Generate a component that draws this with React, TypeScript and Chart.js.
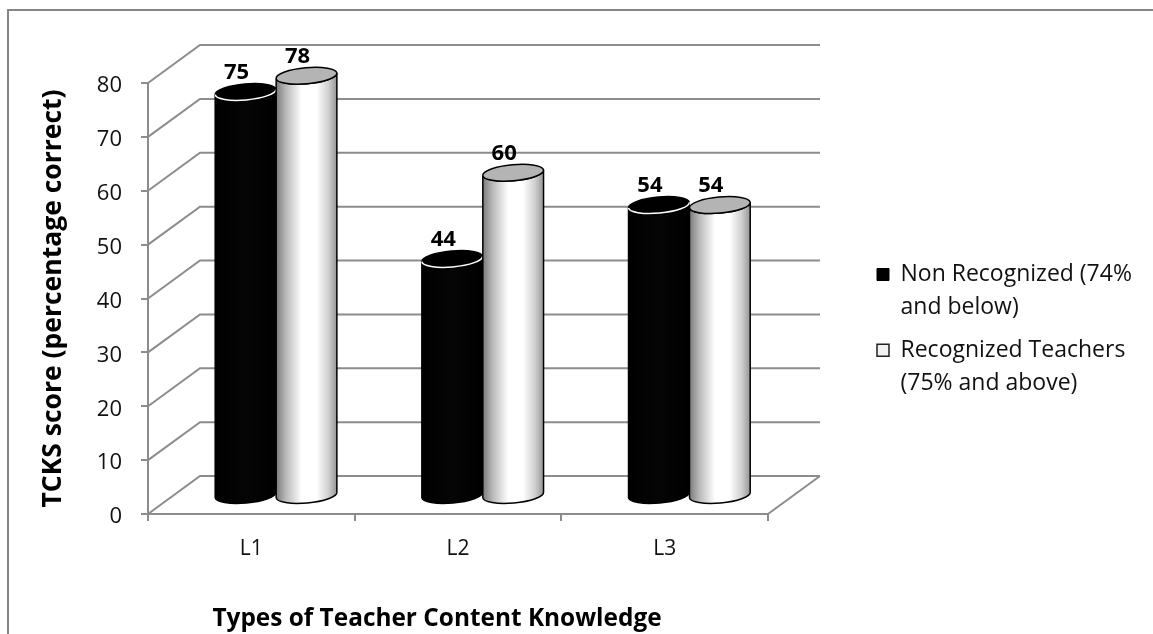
import React, { useEffect, useRef } from "react";
import { Chart, registerables } from "chart.js";

Chart.register(...registerables);

const categories = ["L1", "L2", "L3"];
const nonRecognized = [75, 44, 54];
const recognized = [78, 60, 54];
const nonRecognizedLabel = ["Non Recognized (74%", "and below)"];
const recognizedLabel = ["Recognized Teachers", "(75% and above)"];
const yTitle = "TCKS score (percentage correct)";
const xTitle = "Types of Teacher Content Knowledge";

const FONT = "'Open Sans', Lato, sans-serif";
const GRID = "#8c8c8c";
const TEXT = "#111111";
const DEPTH_X = 52;
const DEPTH_Y = 38;
const BAR_DX = 24.7;
const BAR_DY = -18;
const TILT = -0.09;

function cylinder(ctx: CanvasRenderingContext2D, el: any, dark: boolean) {
  const cx = el.x + BAR_DX;
  const top = el.y + BAR_DY;
  const bottom = el.base + BAR_DY;
  const rx = el.width / 2;
  const ry = 8;
  const ex = rx * Math.cos(TILT);
  const ey = rx * Math.sin(TILT);

  const g = ctx.createLinearGradient(cx - rx, 0, cx + rx, 0);
  if (dark) {
    g.addColorStop(0, "#000000");
    g.addColorStop(0.5, "#050505");
    g.addColorStop(1, "#000000");
  } else {
    g.addColorStop(0, "#7a7a7a");
    g.addColorStop(0.16, "#b8b8b8");
    g.addColorStop(0.42, "#ffffff");
    g.addColorStop(0.66, "#ffffff");
    g.addColorStop(0.86, "#cfcfcf");
    g.addColorStop(1, "#949494");
  }

  ctx.save();
  ctx.beginPath();
  ctx.moveTo(cx - ex, top - ey);
  ctx.lineTo(cx - ex, bottom - ey);
  ctx.ellipse(cx, bottom, rx, ry, TILT, Math.PI, 0, true);
  ctx.lineTo(cx + ex, top + ey);
  ctx.ellipse(cx, top, rx, ry, TILT, 0, Math.PI, false);
  ctx.closePath();
  ctx.fillStyle = g;
  ctx.fill();
  ctx.strokeStyle = "#000000";
  ctx.lineWidth = 1.5;
  ctx.stroke();

  ctx.beginPath();
  ctx.ellipse(cx, top, rx, ry, TILT, 0, Math.PI * 2);
  ctx.fillStyle = dark ? "#000000" : "#b4b4b4";
  ctx.fill();
  ctx.lineWidth = 1.5;
  ctx.strokeStyle = "#000000";
  ctx.stroke();
  if (dark) {
    ctx.beginPath();
    ctx.ellipse(cx, top, rx, ry, TILT, 0, Math.PI, false);
    ctx.strokeStyle = "#ffffff";
    ctx.lineWidth = 1.5;
    ctx.stroke();
  }
  ctx.restore();
}

const scene3d = {
  id: "scene3d",
  afterLayout(chart: any) {
    const l = chart.legend;
    l.left = 867;
    l.right = 1150;
    l.top = 253;
    l.bottom = 420;
  },
  beforeDraw(chart: any) {
    const ctx = chart.ctx as CanvasRenderingContext2D;
    ctx.save();
    ctx.strokeStyle = "#868686";
    ctx.lineWidth = 2;
    ctx.beginPath();
    ctx.moveTo(8, 634);
    ctx.lineTo(8, 10);
    ctx.lineTo(1153, 10);
    ctx.stroke();
    ctx.restore();
  },
  beforeDatasetsDraw(chart: any) {
    const ctx = chart.ctx as CanvasRenderingContext2D;
    const { left, right, bottom } = chart.chartArea;
    const y = chart.scales.y;
    ctx.save();
    ctx.strokeStyle = GRID;
    ctx.lineWidth = 2;
    ctx.beginPath();
    y.ticks.forEach((t: any) => {
      const py = y.getPixelForValue(t.value);
      ctx.moveTo(left, py);
      ctx.lineTo(left + DEPTH_X, py - DEPTH_Y);
      ctx.lineTo(right + DEPTH_X, py - DEPTH_Y);
    });
    ctx.moveTo(right, bottom);
    ctx.lineTo(right + DEPTH_X, bottom - DEPTH_Y);
    ctx.stroke();
    ctx.restore();

    chart.data.datasets.forEach((_: any, di: number) => {
      chart.getDatasetMeta(di).data.forEach((el: any) => cylinder(ctx, el, di === 0));
    });
  },
  beforeDatasetDraw() {
    return false;
  },
  afterDatasetsDraw(chart: any) {
    const ctx = chart.ctx as CanvasRenderingContext2D;
    ctx.save();
    ctx.font = `bold 22px ${FONT}`;
    ctx.fillStyle = "#000000";
    ctx.textAlign = "center";
    ctx.textBaseline = "middle";
    chart.data.datasets.forEach((ds: any, di: number) => {
      chart.getDatasetMeta(di).data.forEach((el: any, i: number) => {
        ctx.fillText(String(ds.data[i]), el.x + BAR_DX - 9, el.y + BAR_DY - 19);
      });
    });
    ctx.restore();
  },
};

export default function App() {
  const ref = useRef<HTMLCanvasElement>(null);

  useEffect(() => {
    const chart = new Chart(ref.current as HTMLCanvasElement, {
      type: "bar",
      data: {
        labels: categories,
        datasets: [
          {
            label: nonRecognizedLabel as any,
            data: nonRecognized,
            backgroundColor: "#000000",
            borderColor: "#000000",
            borderWidth: 1,
          },
          {
            label: recognizedLabel as any,
            data: recognized,
            backgroundColor: "#f2f2f2",
            borderColor: "#222222",
            borderWidth: 1.5,
          },
        ],
      },
      plugins: [scene3d as any],
      options: {
        responsive: false,
        animation: false,
        devicePixelRatio: 1,
        layout: { padding: { top: 83, right: 385, bottom: 0, left: 0 } },
        datasets: { bar: { categoryPercentage: 0.59, barPercentage: 1 } },
        plugins: {
          legend: {
            position: "chartArea" as any,
            align: "start",
            labels: {
              boxWidth: 12,
              boxHeight: 12,
              padding: 10,
              color: TEXT,
              font: { family: FONT, size: 23, lineHeight: 1.43 },
            },
          },
          tooltip: { enabled: false },
        },
        scales: {
          x: {
            afterFit(scale: any) {
              scale.height = 120;
              if (!scale.__titleShifted) {
                scale.__titleShifted = true;
                const orig = scale.drawTitle;
                scale.drawTitle = function () {
                  const l = this.left;
                  const r = this.right;
                  this.left = l - 21;
                  this.right = r - 21;
                  orig.call(this);
                  this.left = l;
                  this.right = r;
                };
              }
            },
            grid: {
              drawOnChartArea: false,
              color: GRID,
              lineWidth: 2,
              tickLength: 7,
            },
            border: { color: GRID, width: 2 },
            ticks: {
              color: TEXT,
              padding: 15,
              maxRotation: 0,
              font: { family: FONT, size: 21 },
            },
            title: {
              display: true,
              text: xTitle,
              color: "#000000",
              padding: { top: 42, bottom: 0 },
              font: { family: FONT, size: 24.4, weight: "bold" },
            },
          },
          y: {
            min: 0,
            max: 80,
            afterFit(scale: any) {
              scale.width = 148;
            },
            grid: {
              drawOnChartArea: false,
              color: GRID,
              lineWidth: 2,
              tickLength: 7,
            },
            border: { color: GRID, width: 2 },
            ticks: {
              stepSize: 10,
              color: TEXT,
              padding: 19,
              labelOffset: 3,
              font: { family: FONT, size: 22 },
            },
            title: {
              display: true,
              text: yTitle,
              color: "#000000",
              padding: { top: 38, bottom: 0 },
              font: { family: FONT, size: 26.5, weight: "bold" },
            },
          },
        },
      },
    } as any);
    return () => chart.destroy();
  }, []);

  return (
    <div style={{ position: "absolute", left: 0, top: 0, width: 1153, height: 634, background: "#ffffff" }}>
      <canvas ref={ref} width={1153} height={634} style={{ display: "block" }} />
    </div>
  );
}
